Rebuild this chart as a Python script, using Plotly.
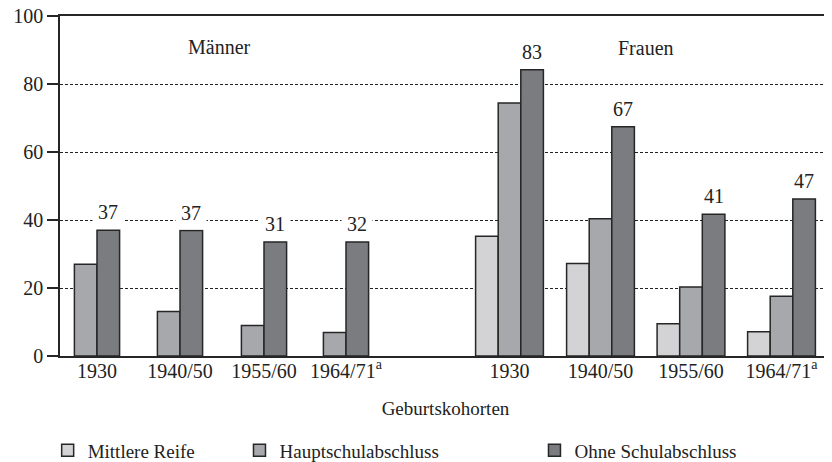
import plotly.graph_objects as go

# Geburtskohorten (Kategorien)
cohorts = ["1930", "1940/50", "1955/60", "1964/71<sup>a</sup>"]

# Männer (keine Werte für Mittlere Reife)
men_haupt = [27.0, 13.1, 9.0, 6.9]
men_ohne = [37.0, 36.9, 33.5, 33.5]
men_labels = ["37", "37", "31", "32"]

# Frauen
women_mittlere = [35.2, 27.2, 9.5, 7.1]
women_haupt = [74.4, 40.4, 20.3, 17.6]
women_ohne = [84.2, 67.4, 41.7, 46.2]
women_labels = ["83", "67", "41", "47"]

# Gruppenmitten auf der x-Achse und Balkenbreite
men_pos = [37, 120, 204, 286]
women_pos = [449.5, 540.5, 631, 721.5]
bw = 22.6

FONT = "Liberation Serif"
EDGE = "#262626"
C_MITTLERE = "#d3d3d5"
C_HAUPT = "#a7a8ac"
C_OHNE = "#7b7c80"

fig = go.Figure()

fig.add_trace(go.Bar(
    x = [p - bw for p in women_pos],
    y = women_mittlere,
    width = bw,
    name = "Mittlere Reife",
    marker = dict(color=C_MITTLERE, line=dict(color=EDGE, width=1.5)),
    legend = "legend"))

fig.add_trace(go.Bar(
    x = [p - bw / 2 for p in men_pos] + women_pos,
    y = men_haupt + women_haupt,
    width = bw,
    name = "Hauptschulabschluss",
    marker = dict(color=C_HAUPT, line=dict(color=EDGE, width=1.5)),
    legend = "legend2"))

fig.add_trace(go.Bar(
    x = [p + bw / 2 for p in men_pos] + [p + bw for p in women_pos],
    y = men_ohne + women_ohne,
    width = bw,
    name = "Ohne Schulabschluss",
    marker = dict(color=C_OHNE, line=dict(color=EDGE, width=1.5)),
    legend = "legend3"))

# Wertebeschriftungen über den Balken "Ohne Schulabschluss"
label_x = [p + bw / 2 for p in men_pos] + [p + bw for p in women_pos]
label_y = men_ohne + women_ohne
for x, y, t in zip(label_x, label_y, men_labels + women_labels):
    fig.add_annotation(x=x, y=y, text=t, showarrow=False, yshift=18,
                       bgcolor="white", borderpad=5,
                       font=dict(family=FONT, size=20, color="#222"))

fig.add_annotation(x=159, y=90.8, text="Männer", showarrow=False,
                   font=dict(family=FONT, size=20, color="#222"))
fig.add_annotation(x=585.5, y=90.5, text="Frauen", showarrow=False,
                   font=dict(family=FONT, size=20, color="#222"))

leg = dict(orientation="h", yanchor="middle", y=-0.278, xanchor="left",
           bgcolor="rgba(0,0,0,0)", font=dict(family=FONT, size=19, color="#222"))

# die Seite hat 8px Rand: Figur und Ränder um 8px kleiner
fig.update_layout(
    width = 824, height = 454,
    margin = dict(l=52, r=1, t=8, b=106, autoexpand=False),
    plot_bgcolor = "white", paper_bgcolor = "white",
    font = dict(family=FONT, size=19, color="#222"),
    barmode = "overlay",
    showlegend = True,
    legend = dict(leg, x=-0.016),
    legend2 = dict(leg, x=0.2328),
    legend3 = dict(leg, x=0.6154),
    xaxis = dict(range=[0, 771], tickvals=men_pos + women_pos,
                 ticktext=cohorts + cohorts, ticks="", showgrid=False,
                 zeroline=False, showline=True, mirror=True,
                 linecolor=EDGE, linewidth=1.5, automargin=False,
                 ticklabelstandoff=-4,
                 tickfont=dict(family=FONT, size=20, color="#222"),
                 title=dict(text="Geburtskohorten", standoff=21,
                            font=dict(family=FONT, size=19, color="#222"))),
    yaxis = dict(range=[0, 100], tickvals=[0, 20, 40, 60, 80, 100],
                 ticks="outside", ticklen=11, tickcolor=EDGE, tickwidth=1.5,
                 tickfont=dict(family=FONT, size=20, color="#222"),
                 ticklabeloverflow="allow",
                 showgrid=True, gridcolor="#222", gridwidth=1,
                 griddash="3px,2px", zeroline=False, showline=True,
                 mirror=True, linecolor=EDGE, linewidth=1.5, automargin=False),
)

fig.write_html("out.html")
